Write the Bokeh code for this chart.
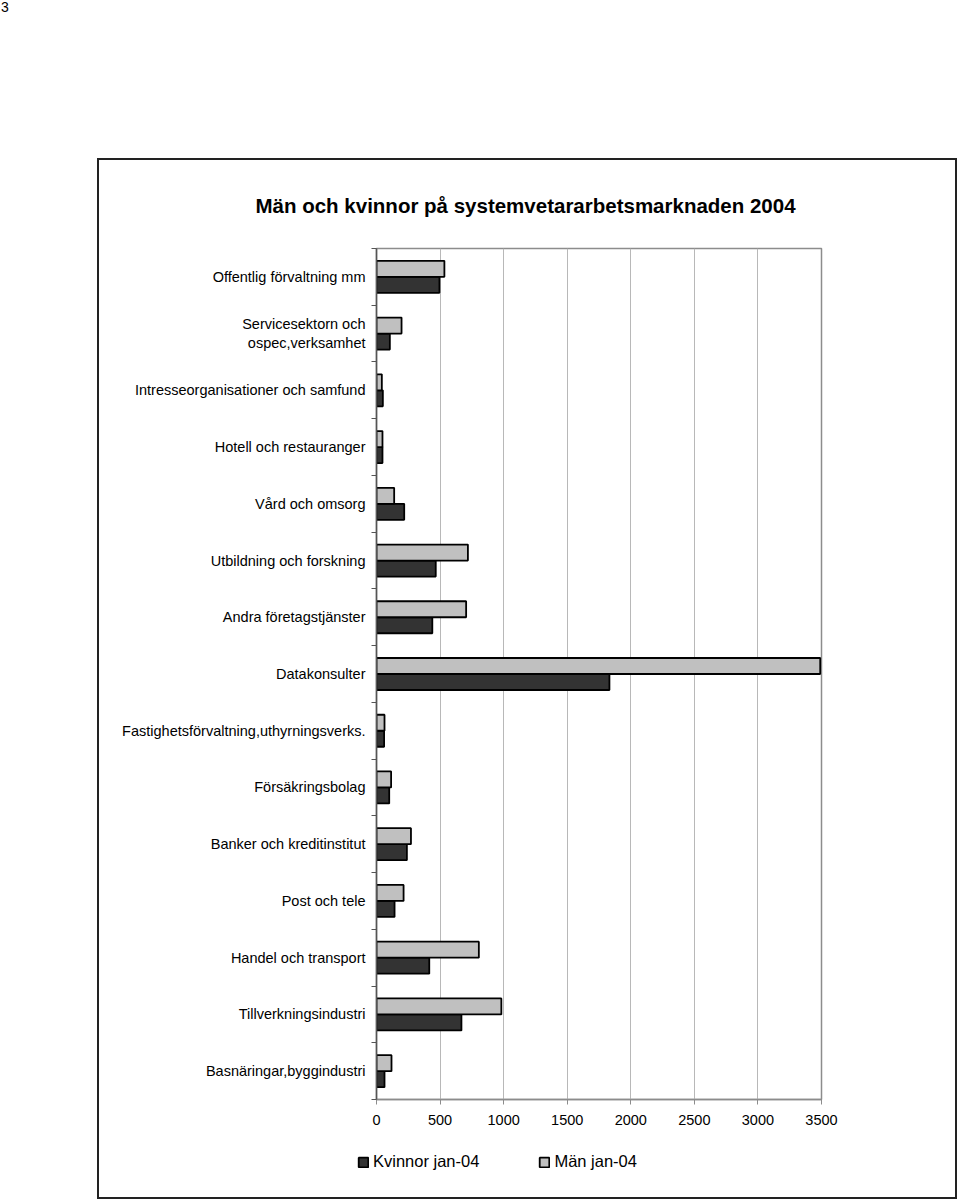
from bokeh.plotting import figure
from bokeh.models import (ColumnDataSource, Range1d, FixedTicker, Legend,
                          LegendItem, Title, Div, Spacer)
from bokeh.layouts import column, row
from bokeh.embed import file_html
from bokeh.resources import INLINE

categories = [
    "Offentlig förvaltning mm",
    "Servicesektorn och\nospec,verksamhet",
    "Intresseorganisationer och samfund",
    "Hotell och restauranger",
    "Vård och omsorg",
    "Utbildning och forskning",
    "Andra företagstjänster",
    "Datakonsulter",
    "Fastighetsförvaltning,uthyrningsverks.",
    "Försäkringsbolag",
    "Banker och kreditinstitut",
    "Post och tele",
    "Handel och transport",
    "Tillverkningsindustri",
    "Basnäringar,byggindustri",
]
kvinnor = [495, 105, 50, 47, 218, 466, 439, 1832, 60, 100, 239, 142, 415, 668, 63]
man = [534, 197, 42, 47, 139, 719, 705, 3490, 63, 115, 271, 213, 805, 982, 118]
x_ticks = [0, 500, 1000, 1500, 2000, 2500, 3000, 3500]
title_text = "Män och kvinnor på systemvetararbetsmarknaden 2004"
legend_labels = ["Kvinnor jan-04", "Män jan-04"]

FONT = "Liberation Sans"
K_FILL, M_FILL = "#333333", "#c0c0c0"
BORDER = "2px solid #222222"
BAR_LW = 1.8
n = len(categories)
pos = [n - 1 - i for i in range(n)]
off = 0.141
src = ColumnDataSource(dict(
    cat=categories, k=kvinnor, m=man,
    yk=[p_ - off for p_ in pos], ym=[p_ + off for p_ in pos],
))

W = 860
H1, H2 = 982, 59
L, T = 277, 88
FW, FH = 444, 849
R = (W - 1) - L - FW
B = (H1 - 2) - T - FH
p = figure(width=W, height=H1, output_backend="svg", toolbar_location=None,
           x_range=Range1d(0, 3500), y_range=Range1d(-0.5, n - 0.5),
           min_border_left=L, min_border_right=R, min_border_top=T, min_border_bottom=B,
           margin=0,
           styles={"border": BORDER, "border-bottom": "none"})
p.background_fill_color = "white"
p.border_fill_color = "white"
p.outline_line_color = "#8c8c8c"
p.outline_line_width = 1.5

rk = p.hbar(y="yk", left=0, right="k", height=0.282, source=src,
            fill_color=K_FILL, line_color="black", line_width=BAR_LW)
rm = p.hbar(y="ym", left=0, right="m", height=0.282, source=src,
            fill_color=M_FILL, line_color="black", line_width=BAR_LW)

# y axis
yax = p.yaxis[0]
yax.ticker = FixedTicker(ticks=pos, minor_ticks=[v - 0.5 for v in range(n + 1)])
yax.major_label_overrides = {pos[i]: categories[i] for i in range(n)}
yax.major_tick_out = 0
yax.major_tick_in = 0
yax.minor_tick_out = 5
yax.minor_tick_in = 0
yax.axis_line_color = "#555555"
yax.axis_line_width = 1.5
yax.minor_tick_line_color = "#555555"
yax.major_label_standoff = 6
yax.major_label_text_font = FONT
yax.major_label_text_font_size = "14.5px"
yax.major_label_text_color = "black"

# x axis
xax = p.xaxis[0]
xax.ticker = FixedTicker(ticks=x_ticks)
xax.major_tick_out = 5
xax.major_tick_in = 0
xax.minor_tick_out = 0
xax.minor_tick_in = 0
xax.axis_line_color = "#8c8c8c"
xax.axis_line_width = 1.5
xax.major_tick_line_color = "#8c8c8c"
xax.major_label_standoff = 10
xax.major_label_text_font = FONT
xax.major_label_text_font_size = "14.5px"
xax.major_label_text_color = "black"

p.xgrid.grid_line_color = "#b8b8b8"
p.xgrid.grid_line_width = 1
p.ygrid.grid_line_color = None

p.title = Title(text=title_text, align="left", offset=-121, standoff=63,
                text_font=FONT, text_font_size="20.5px", text_font_style="bold",
                text_color="black")

# legend strip (bottom part of the bordered chart box)
pl = figure(width=W, height=H2, output_backend="svg", toolbar_location=None,
            x_range=Range1d(-2, -1), y_range=Range1d(-2, -1),
            x_axis_location=None, y_axis_location=None,
            min_border=0, min_border_left=0, min_border_right=0,
            min_border_top=0, min_border_bottom=0, margin=0,
            styles={"border": BORDER, "border-top": "none"})
aligned_off = "frame_align" in pl.properties()
if aligned_off:
    pl.frame_align = False
pl.outline_line_color = None
pl.grid.grid_line_color = None
pl.background_fill_color = "white"
pl.border_fill_color = "white"
# same series drawn in the legend strip (outside its visible range) so that
# the legend can show their swatches
lk = pl.hbar(y="yk", left=0, right="k", height=0.282, source=src,
             fill_color=K_FILL, line_color="black", line_width=BAR_LW)
lm = pl.hbar(y="ym", left=0, right="m", height=0.282, source=src,
             fill_color=M_FILL, line_color="black", line_width=BAR_LW)
legend = Legend(items=[LegendItem(label=legend_labels[0], renderers=[lk]),
                       LegendItem(label=legend_labels[1], renderers=[lm])],
                location=(258, 28) if aligned_off else (0, 28),
                orientation="horizontal",
                padding=0, margin=0, spacing=59, label_standoff=4,
                glyph_width=12, glyph_height=12, label_height=16,
                label_text_font=FONT, label_text_font_size="16.5px",
                label_text_color="black",
                border_line_alpha=0, background_fill_alpha=0)
pl.add_layout(legend)

page_no = Div(text="3", width=20, height=158, margin=0,
              styles={"font-family": FONT, "font-size": "14px", "color": "black",
                      "line-height": "14px", "padding-left": "1px"})
chart_box = column(p, pl, margin=0, spacing=0)
layout = column(page_no, row(Spacer(width=97, height=10, margin=0), chart_box, margin=0),
                margin=0, spacing=0)

open("out.html", "w").write(file_html(layout, INLINE))
